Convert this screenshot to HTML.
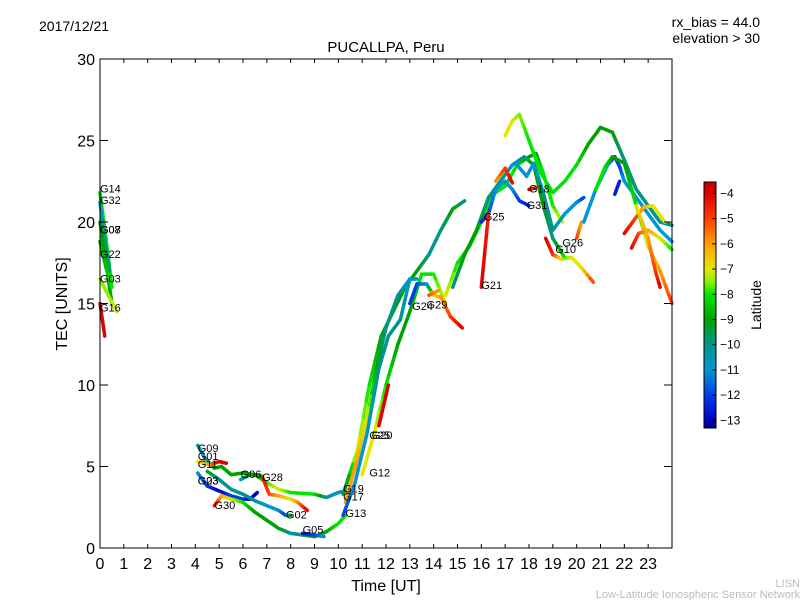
<!DOCTYPE html>
<html><head><meta charset="utf-8"><style>
body{margin:0;background:#fff;}
svg text{font-family:"Liberation Sans","DejaVu Sans",sans-serif;}
</style></head><body>
<svg id="chart" width="800" height="600" viewBox="0 0 800 600" xmlns="http://www.w3.org/2000/svg">
<defs>
<linearGradient id="cmap" x1="0" y1="1" x2="0" y2="0">
<stop offset="0" stop-color="rgb(0,0,140)"/>
<stop offset="0.031" stop-color="rgb(0,0,200)"/>
<stop offset="0.133" stop-color="rgb(0,60,230)"/>
<stop offset="0.236" stop-color="rgb(0,150,210)"/>
<stop offset="0.338" stop-color="rgb(0,150,140)"/>
<stop offset="0.441" stop-color="rgb(0,160,0)"/>
<stop offset="0.544" stop-color="rgb(0,230,0)"/>
<stop offset="0.595" stop-color="rgb(140,240,0)"/>
<stop offset="0.646" stop-color="rgb(230,230,0)"/>
<stop offset="0.749" stop-color="rgb(255,160,0)"/>
<stop offset="0.851" stop-color="rgb(255,60,0)"/>
<stop offset="0.954" stop-color="rgb(220,0,0)"/>
<stop offset="1" stop-color="rgb(190,0,0)"/>
</linearGradient>
</defs>
<text x="39" y="31" font-size="14">2017/12/21</text>
<text x="386" y="52" font-size="15" text-anchor="middle">PUCALLPA, Peru</text>
<text x="760" y="27" font-size="14" text-anchor="end">rx_bias = 44.0</text>
<text x="760" y="43" font-size="14" text-anchor="end">elevation &gt; 30</text>
<g id="marks"></g>
<g id="labels"></g>
<rect x="100" y="59" width="572" height="489" fill="none" stroke="#000" stroke-width="1"/>
<g id="axes"></g>
<text x="386" y="591" font-size="16" text-anchor="middle">Time [UT]</text>
<text x="67" y="304" font-size="16" text-anchor="middle" transform="rotate(-90 67 304)">TEC [UNITS]</text>
<rect x="704" y="182" width="12" height="246" fill="url(#cmap)" stroke="#000" stroke-width="1"/>
<g id="cbticks"></g>
<text x="761" y="305" font-size="14" text-anchor="middle" transform="rotate(-90 761 305)">Latitude</text>
<text x="800" y="587" font-size="11" fill="#bbb" text-anchor="end">LISN</text>
<text x="800" y="598" font-size="11" fill="#bbb" text-anchor="end">Low-Latitude Ionospheric Sensor Network</text>
</svg>
<script>
const xTicks=[0,1,2,3,4,5,6,7,8,9,10,11,12,13,14,15,16,17,18,19,20,21,22,23];
const yTicks=[0,5,10,15,20,25,30];
const cbTicks=[-4,-5,-6,-7,-8,-9,-10,-11,-12,-13];
const traceNames=["G14","G32","G07","G22","G03","G16","G09","G01","G23","G30","G02","G28","G05","G06","G19","G17","G13","G12","RED1","G24","G29","UP1","UP2","YEL","G25","G21","ORG","G31","G18","G10","G26","CY2","GR2","RD2","RD3","OR2","BL2"];
const traceTimes=[
[0,0.25,0.5],[0,0.2,0.4],[0,0.25,0.5],[0,0.25,0.5],[0,0.35,0.7],[0,0.2],
[4.1,4.4,4.8,5.1,5.5,6,6.5,7,7.5,8,9,9.5,10,10.3],
[4.1,4.6,5,5.3],
[4.1,4.5,5,5.5,6,6.3,6.6],
[4.8,5.1,5.5,6,6.5,7,7.5,8,8.5,9,9.5,10,10.3],
[4.5,5,5.5,6,6.5,7,7.5,7.8,8],
[6.8,7.1,7.5,8,8.3,8.7],
[8.5,9,9.4],
[5.9,6.3,6.8],
[10.2,10.8,11.3,11.8,12.3,12.8,13.3,13.8,14.3,14.8,15.3],
[10.3,10.8,11.2,11.6,12,12.5,13,13.3],
[10.2,10.7,11.2,11.7,12.1,12.6,13],
[11,11.5,12,12.5,13,13.5,14,14.5],
[11.7,12.1],
[13,13.3,13.7,14,14.3,14.7,15.2],
[13.8,14.2],
[14.5,15,15.5,16,16.5,17,17.5,18,18.3,18.6,19,19.4],
[14.8,15.3,15.8,16.3,16.8,17.3,17.8,18.2,18.6,19,19.5,19.8,20.2,20.7],
[17,17.3,17.6,18,18.5,19,19.5,20,20.5,21,21.5,22,22.5,23,23.5,24],
[16,16.3,16.6,17,17.3,17.6,18],
[16,16.3],
[16.6,17,17.3],
[17.5,17.9,18.2,18.6,19,19.5,20,20.3],
[18,18.3],
[18.7,19,19.4],
[20,20.2],
[20.3,20.8,21.3,21.6,21.8,22,22.5,23,23.5,24],
[20.8,21.2,21.5,22,22.5,23,23.5,24],
[22,22.5,22.8,23.2,23.7],
[22.3,22.6,23,23.5,24],
[22.5,23,23.3,23.5],
[21.6,21.8]
];
const traceTec=[
[21.8,19,16],[21.2,19,17],[20,17.5,15],[18.8,17.2,16],[16.5,15.5,14.5],[15,13],
[6.3,5.5,4.9,5,4.5,4.6,4.5,4,3.6,3.4,3.3,3.1,3.4,3.5],
[5.3,5.1,5.3,5.2],
[4.6,3.8,3.5,3.2,3,3,3.4],
[2.6,3.2,3,2.8,2.2,1.7,1.2,0.9,0.8,0.7,1,1.5,2],
[4.7,4.2,3.6,3.3,2.9,2.6,2.3,2,2],
[4.4,3.3,3.2,3,2.8,2.3],
[0.9,0.8,0.7],
[4.2,4.5,4.4],
[3.3,6,10,13,14.5,16,17,18,19.5,20.8,21.3],
[2.8,5.5,8,11,13.5,15.5,16.5,16.5],
[2,4,7,11,13,14,16.5],
[4.5,7,10,12.5,14.5,16.8,16.8,15],
[7.5,10],
[15,16.2,16.2,15.5,15.4,14.2,13.5],
[15.5,15.8],
[15.5,17.5,18.5,20,21.7,22.2,23.5,24,24.2,23,21,20],
[16,18,19.5,21.5,22.5,23.5,24,23.5,21,19,17.8,17.8,17.2,16.3],
[25.3,26.2,26.6,25,23,21.8,22.5,23.5,24.8,25.8,25.5,23.8,22,21,20,19.8],
[20,20.5,22,22.5,22,21.3,21],
[16,20.5],
[22.5,23.3,22.4],
[23.5,22.8,23.6,21.8,19.5,20.5,21.2,21.5],
[22,22.1],
[19,18,17.7],
[19,20],
[20,22,23.5,24,23.4,22.5,21.5,20.5,19.5,18.8],
[22,23.4,24,23.6,21,18.5,17,15],
[19.3,20.3,20.9,21,20],
[18.4,19.3,19.5,19,18.3],
[21,19,17,16],
[21.7,22.5]
];
const traceLat=[
[-8,-8,-8],[-11,-10,-10],[-9,-9,-9],[-9,-8.5,-8],[-7.5,-7.5,-7],[-4,-4],
[-10,-11,-9,-9,-9,-9,-9,-8,-7,-8,-8,-10,-11,-10],
[-7,-6,-4,-4],
[-11,-12,-13,-12,-12,-13,-13],
[-4,-6,-7,-8,-9,-9,-9,-10,-10,-9,-9,-8,-8],
[-9,-10,-10,-10,-10,-11,-11,-12,-9],
[-4,-5,-6,-7,-6,-4],
[-13,-12,-11],
[-11,-9,-9],
[-10,-7,-8,-9,-9,-9,-9,-10,-10,-9,-10],
[-6,-6,-7,-9,-10,-10,-11,-11],
[-12,-11,-11,-10,-10,-10,-11],
[-7,-7,-8,-9,-9,-8,-8,-7],
[-4,-4],
[-12,-12,-11,-7,-6,-5,-4],
[-5,-6],
[-7,-8,-8,-8,-8,-8,-8,-9,-9,-8,-8,-7],
[-10,-9,-9,-10,-10,-11,-10,-9,-9,-10,-8,-7,-7,-5],
[-7,-7,-7.5,-8,-8,-8,-8,-8,-9,-9,-9,-10,-10,-10,-10,-10],
[-12.5,-12,-11,-11,-11,-12,-12.5],
[-4,-4.5],
[-6,-5,-4],
[-11,-11,-11,-10,-10,-11,-11,-12],
[-4,-4.5],
[-4,-4.5,-7],
[-5,-6],
[-11,-11,-11,-12,-12,-11,-11,-11,-11,-11],
[-8,-8,-9,-9,-8,-7,-6,-5],
[-4,-5,-6,-7,-7],
[-4,-5,-6,-7,-8],
[-7,-6,-5,-4],
[-12.5,-12.5]
];
const satLabels=["G14","G32","G08","G07","G22","G03","G16","G09","G01","G11","G23","G03","G30","G06","G28","G02","G05","G19","G17","G13","G12","G25","G20","G24","G29","G21","G25","G18","G31","G26","G10"];
const labelTimes=[0,0,0,0,0,0,0,4.1,4.1,4.1,4.1,4.1,4.8,5.9,6.8,7.8,8.5,10.2,10.2,10.3,11.3,11.3,11.4,13.1,13.7,16,16.1,18,17.9,19.4,19.1];
const labelTec=[21.8,21.1,19.3,19.3,17.8,16.3,14.5,5.9,5.4,4.9,3.9,3.9,2.4,4.3,4.1,1.8,0.9,3.4,2.9,1.9,4.4,6.7,6.7,14.6,14.7,15.9,20.1,21.8,20.8,18.5,18.1];
const X=t=>100+t*(572/24), Y=v=>548-v*(489/30);
const cbY=l=>182+(-3.55-l)*(246/9.75);
const cmapLat=[-13.3,-13,-12,-11,-10,-9,-8,-7.5,-7,-6,-5,-4,-3.55];
const cmapRGB=[[0,0,140],[0,0,200],[0,60,230],[0,150,210],[0,150,140],[0,160,0],[0,230,0],[140,240,0],[230,230,0],[255,160,0],[255,60,0],[220,0,0],[190,0,0]];
function latColor(l){
 l=Math.max(-13.3,Math.min(-3.55,l));
 for(let i=0;i<cmapLat.length-1;i++){
  if(l<=cmapLat[i+1]){const f=(l-cmapLat[i])/(cmapLat[i+1]-cmapLat[i]);
   const c=cmapRGB[i].map((v,j)=>Math.round(v+(cmapRGB[i+1][j]-v)*f));
   return `rgb(${c[0]},${c[1]},${c[2]})`;}
 }
 return 'rgb(190,0,0)';
}
const NS="http://www.w3.org/2000/svg";
const marks=document.getElementById('marks');
traceTimes.forEach((ts,i)=>{
 const g=document.createElementNS(NS,'g');
 
 
 for(let k=0;k<ts.length-1;k++){
  const n=4;
  for(let s=0;s<n;s++){
   const a=s/n,b=(s+1)/n;
   const t1=ts[k]+(ts[k+1]-ts[k])*a,t2=ts[k]+(ts[k+1]-ts[k])*b;
   const v1=traceTec[i][k]+(traceTec[i][k+1]-traceTec[i][k])*a,v2=traceTec[i][k]+(traceTec[i][k+1]-traceTec[i][k])*b;
   const l=traceLat[i][k]+(traceLat[i][k+1]-traceLat[i][k])*(a+b)/2;
   const ln=document.createElementNS(NS,'line');
   ln.setAttribute('x1',X(t1));ln.setAttribute('y1',Y(v1));ln.setAttribute('x2',X(t2));ln.setAttribute('y2',Y(v2));
   ln.setAttribute('stroke',latColor(l));ln.setAttribute('stroke-width','3.5');ln.setAttribute('stroke-linecap','round');
   g.appendChild(ln);
  }
 }
 marks.appendChild(g);
});
const lg=document.getElementById('labels');
satLabels.forEach((s,i)=>{
 const t=document.createElementNS(NS,'text');
 
 
 t.setAttribute('x',X(labelTimes[i]));t.setAttribute('y',Y(labelTec[i]));
 t.setAttribute('font-size','11');t.textContent=s;lg.appendChild(t);
});
const ax=document.getElementById('axes');
function add(tag,attrs,txt,name){const e=document.createElementNS(NS,tag);for(const k in attrs)e.setAttribute(k,attrs[k]);
 if(txt!==undefined)e.textContent=txt;
 
 
 return e;}
xTicks.forEach(t=>{
 ax.appendChild(add('line',{x1:X(t),x2:X(t),y1:548,y2:544,stroke:'#000'},undefined,'x-tick'));
 ax.appendChild(add('line',{x1:X(t),x2:X(t),y1:59,y2:63,stroke:'#000'},undefined,'x-tick-top'));
 ax.appendChild(add('text',{x:X(t),y:569,'font-size':16,'text-anchor':'middle'},String(t),'x-tick-label'));
});
yTicks.forEach(v=>{
 ax.appendChild(add('line',{x1:100,x2:108,y1:Y(v),y2:Y(v),stroke:'#000'},undefined,'y-tick'));
 ax.appendChild(add('line',{x1:664,x2:672,y1:Y(v),y2:Y(v),stroke:'#000'},undefined,'y-tick-right'));
 ax.appendChild(add('text',{x:95,y:Y(v)+6,'font-size':16,'text-anchor':'end'},String(v),'y-tick-label'));
});
const cb=document.getElementById('cbticks');
cbTicks.forEach(l=>{
 cb.appendChild(add('line',{x1:712,x2:716,y1:cbY(l),y2:cbY(l),stroke:'#000'},undefined,'colorbar-tick'));
 cb.appendChild(add('text',{x:720,y:cbY(l)+4,'font-size':12},'\u2212'+Math.abs(l),'colorbar-tick-label'));
});
</script>
</body></html>
